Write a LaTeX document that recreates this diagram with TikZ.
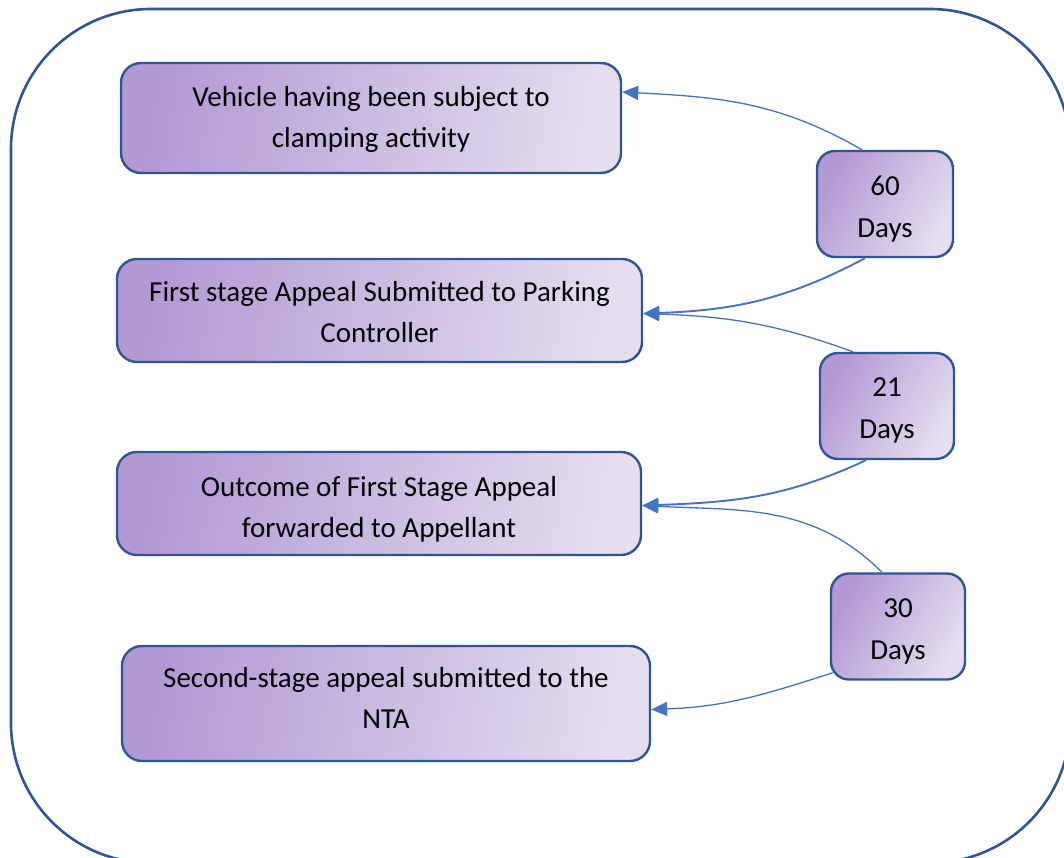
\documentclass[tikz,border=0pt]{standalone}
\usepackage{fontspec}
\setmainfont{Carlito}
\usetikzlibrary{arrows.meta}
\definecolor{frameblue}{RGB}{47,85,151}
\definecolor{linkblue}{RGB}{68,114,196}
\definecolor{boxL}{RGB}{178,152,212}
\definecolor{boxR}{RGB}{228,222,239}
% two centred lines; #1 extra top height, #2 extra bottom depth (to nudge text)
\newcommand{\stacklines}[4]{\begin{tabular}{@{}c@{}}\rule{0pt}{#1}#3\\#4\rule[-#2]{0pt}{#2}\end{tabular}}
\tikzset{
  stagebox/.style={draw=frameblue, line width=2.4pt, rounded corners=20pt,
    left color=boxL, right color=boxR, shading angle=80,
    inner sep=0pt, font=\fontsize{29}{41}\selectfont},
  daybox/.style={draw=frameblue, line width=2.4pt, rounded corners=18pt,
    left color=boxL, right color=boxR, shading angle=60,
    inner sep=0pt, font=\fontsize{29}{42}\selectfont,
    minimum width=134pt, minimum height=106pt},
  link/.style={draw=linkblue, line width=1.3pt,
    -{Triangle[length=16pt,width=14pt]}},
  linkthick/.style={link, line width=1.9pt}
}
\begin{document}
\begin{tikzpicture}[x=1pt,y=-1pt]
\useasboundingbox (0,0) rectangle (1064,858);
\begin{scope}
\clip (0,0) rectangle (1064,858);
\draw[frameblue, line width=2.6pt, rounded corners=140pt] (11,9) rectangle (1070,863);
\end{scope}
\node[stagebox, minimum width=500pt, minimum height=110pt] (b1) at (371,118)
  {\stacklines{30.7pt}{12.3pt}{Vehicle having been subject to}{clamping activity}};
\node[stagebox, minimum width=525pt, minimum height=103pt] (b2) at (379.5,310.5)
  {\stacklines{34.7pt}{12.3pt}{First stage Appeal Submitted to Parking}{Controller}};
\node[stagebox, minimum width=524pt, minimum height=103pt] (b3) at (379,503.5)
  {\stacklines{39.7pt}{12.3pt}{Outcome of First Stage Appeal}{forwarded to Appellant}};
\node[stagebox, minimum width=528pt, minimum height=115pt] (b4) at (386,703.5)
  {\stacklines{28.7pt}{19.3pt}{Second-stage appeal submitted to the}{NTA}};
\node[daybox, minimum width=136pt] (d60) at (885,204)
  {\stacklines{37.4pt}{12.6pt}{60}{Days}};
\node[daybox] (d21) at (887,406)
  {\stacklines{36.4pt}{12.6pt}{21}{Days}};
\node[daybox] (d30) at (898,626.5)
  {\stacklines{37.4pt}{12.6pt}{30}{Days}};
\draw[link] ([xshift=-23pt]d60.north) to[out=150, in=-3] ([yshift=26pt]b1.east);
\draw[linkthick] ([xshift=-20pt]d60.south) to[out=208, in=2] ([yshift=-3pt]b2.east);
\draw[link] ([xshift=-34pt]d21.north) to[out=160, in=-2] ([yshift=-3pt]b2.east);
\draw[linkthick] ([xshift=-21pt]d21.south) to[out=205, in=2] ([yshift=-2pt]b3.east);
\draw[link] ([xshift=-16pt]d30.north) to[out=135, in=-3] ([yshift=-2pt]b3.east);
\draw[link] ([xshift=3pt,yshift=8pt]d30.south west) to[out=198, in=2] ([yshift=-6pt]b4.east);
\end{tikzpicture}
\end{document}
